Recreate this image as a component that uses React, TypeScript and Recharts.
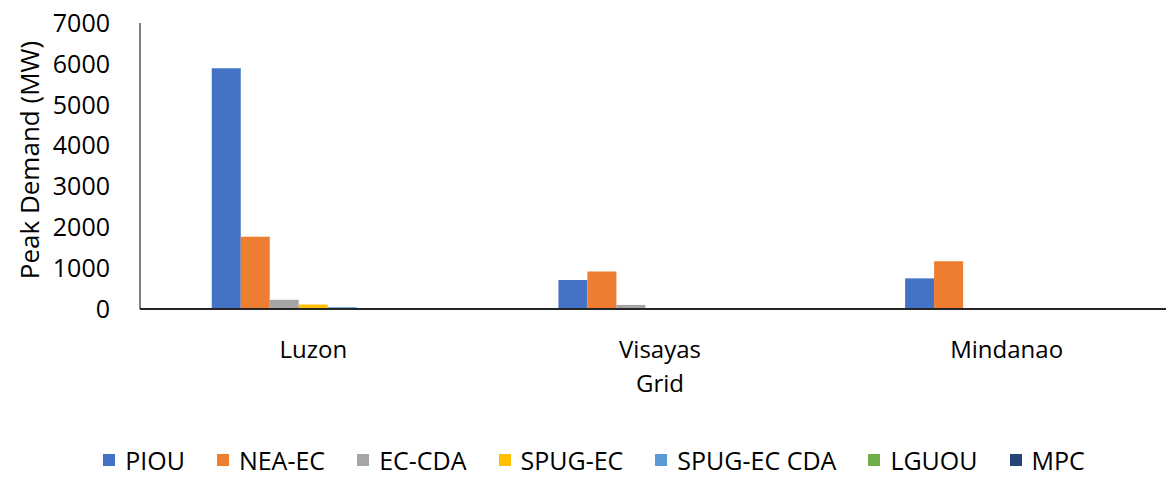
import { BarChart, Bar, XAxis, YAxis, Legend } from "recharts";

const grids = ["Luzon", "Visayas", "Mindanao"];

const piou = [5890, 710, 750];
const neaEc = [1770, 920, 1170];
const ecCda = [225, 100, 0];
const spugEc = [110, 10, 10];
const spugEcCda = [45, 0, 0];
const lguou = [0, 0, 0];
const mpc = [0, 0, 0];

const yTicks = [0, 1000, 2000, 3000, 4000, 5000, 6000, 7000];

const series = [
  { key: "PIOU", values: piou, color: "#4472C4" },
  { key: "NEA-EC", values: neaEc, color: "#ED7D31" },
  { key: "EC-CDA", values: ecCda, color: "#A5A5A5" },
  { key: "SPUG-EC", values: spugEc, color: "#FFC000" },
  { key: "SPUG-EC CDA", values: spugEcCda, color: "#5B9BD5" },
  { key: "LGUOU", values: lguou, color: "#70AD47" },
  { key: "MPC", values: mpc, color: "#264478" },
];

const data = grids.map((grid, i) => {
  const row: Record<string, string | number> = { grid };
  series.forEach((s) => {
    row[s.key] = s.values[i];
  });
  return row;
});

const font = "'Open Sans', sans-serif";

function LegendContent() {
  return (
    <div
      style={{
        display: "flex",
        justifyContent: "center",
        alignItems: "center",
        height: 44,
        paddingTop: 9,
        paddingLeft: 8,
        boxSizing: "border-box",
        fontFamily: font,
        fontSize: 25,
        color: "#000",
      }}
    >
      {series.map((s) => (
        <div
          key={s.key}
          style={{ display: "flex", alignItems: "center", margin: "0 16px" }}
        >
          <span
            style={{
              display: "inline-block",
              width: 12,
              height: 12,
              background: s.color,
              marginRight: 10,
            }}
          />
          <span>{s.key}</span>
        </div>
      ))}
    </div>
  );
}

export default function App() {
  return (
    <div style={{ position: "absolute", left: 0, top: 0, background: "#fff" }}>
      <BarChart
        width={1166}
        height={477}
        data={data}
        margin={{ top: 23, right: -14, bottom: 0, left: 0 }}
        barCategoryGap="20.7%"
        barGap={0}
      >
        <XAxis
          dataKey="grid"
          height={124}
          tickLine={false}
          tickSize={0}
          tickMargin={32}
          axisLine={{ stroke: "#262626", strokeWidth: 2 }}
          tick={{ fill: "#000", fontSize: 24, fontFamily: font }}
          label={{
            value: "Grid",
            position: "insideTop",
            offset: 66,
            fill: "#000",
            fontSize: 24,
            fontFamily: font,
          }}
        />
        <YAxis
          width={140}
          domain={[0, 7000]}
          ticks={yTicks}
          interval={0}
          tickLine={false}
          tickSize={0}
          tickMargin={30}
          axisLine={{ stroke: "#000", strokeWidth: 1 }}
          tick={{ fill: "#000", fontSize: 25, fontFamily: font }}
          label={{
            value: "Peak Demand (MW)",
            angle: -90,
            position: "insideLeft",
            offset: 0,
            dx: 30,
            dy: -6,
            fill: "#000",
            fontSize: 26,
            fontFamily: font,
            style: { textAnchor: "middle" },
          }}
        />
        <Legend verticalAlign="bottom" height={44} content={<LegendContent />} />
        {series.map((s) => (
          <Bar
            key={s.key}
            dataKey={s.key}
            fill={s.color}
            isAnimationActive={false}
          />
        ))}
      </BarChart>
    </div>
  );
}
